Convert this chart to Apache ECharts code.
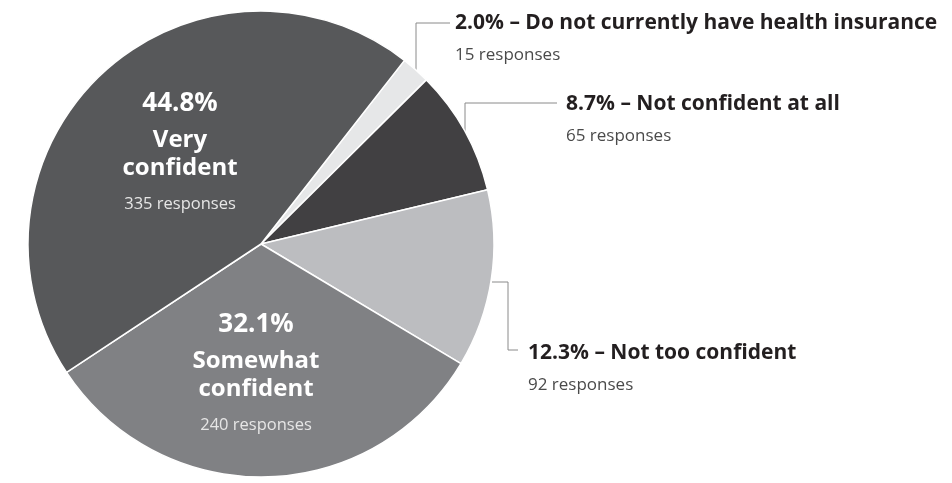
<!DOCTYPE html>
<html>
<head>
<meta charset="utf-8">
<script src="https://cdn.jsdelivr.net/npm/echarts@6/dist/echarts.min.js"></script>
<style>
  html, body { margin: 0; padding: 0; background: #ffffff; }
  #chart { width: 952px; height: 483px; }
</style>
</head>
<body>
<div id="chart"></div>
<script>
// Survey answers, listed clockwise from the top-right slice
const categories = [
  'Do not currently have health insurance',
  'Not confident at all',
  'Not too confident',
  'Somewhat confident',
  'Very confident'
];
const insideNames = ['', '', '', 'Somewhat\nconfident', 'Very\nconfident'];
const responses = [15, 65, 92, 240, 335];
const sliceColors = ['#e6e7e8', '#414042', '#bcbdc0', '#808184', '#57585a'];

const totalResponses = responses.reduce((a, b) => a + b, 0);

// Label placement: outside labels get a left-aligned block with an elbow leader,
// inside labels are centred blocks.
const labelPlacement = [
  { mode: 'out', x: 455, y: 8, line: [[416, 70], [416, 23], [450, 23]] },
  { mode: 'out', x: 566, y: 89, line: [[465, 131], [465, 103], [557, 103]] },
  { mode: 'out', x: 528, y: 338, line: [[492, 282], [508, 282], [508, 350], [518, 350]] },
  { mode: 'in', x: 256, y: 303 },
  { mode: 'in', x: 180, y: 82 }
];

const FONT = '"Open Sans", Lato, sans-serif';

const seriesData = categories.map((name, i) => {
  const out = labelPlacement[i].mode === 'out';
  return {
    name: name,
    value: responses[i],
    itemStyle: { color: sliceColors[i] },
    label: {
      position: out ? 'outside' : 'inside',
      align: out ? 'left' : 'center'
    },
    labelLine: {
      show: out,
      lineStyle: { color: '#8a8a8a', width: 1 }
    }
  };
});

const chart = echarts.init(document.getElementById('chart'), null, { renderer: 'canvas' });

chart.setOption({
  backgroundColor: '#ffffff',
  animation: false,
  series: [{
    type: 'pie',
    center: [261, 244],
    radius: 233,
    startAngle: 52,
    clockwise: true,
    avoidLabelOverlap: false,
    itemStyle: { borderColor: '#ffffff', borderWidth: 1.5 },
    emphasis: { disabled: true },
    data: seriesData,
    label: {
      show: true,
      fontFamily: FONT,
      formatter: function (p) {
        // share of all responses, rounded on its own
        const pct = (p.value / totalResponses * 100).toFixed(1) + '%';
        if (labelPlacement[p.dataIndex].mode === 'out') {
          return '{t|' + pct + ' – ' + p.name + '}\n{s|' + p.value + ' responses}';
        }
        const lines = insideNames[p.dataIndex].split('\n').map(l => '{n|' + l + '}').join('\n');
        return '{p|' + pct + '}\n' + lines + '\n{r|' + p.value + ' responses}';
      },
      rich: {
        t: { fontFamily: FONT, fontSize: 21, fontWeight: 'bold', color: '#231f20', lineHeight: 30 },
        s: { fontFamily: FONT, fontSize: 17, color: '#4a4a4a', lineHeight: 34 },
        p: { fontFamily: FONT, fontSize: 26, fontWeight: 'bold', color: '#ffffff', lineHeight: 44, align: 'center' },
        n: { fontFamily: FONT, fontSize: 24, fontWeight: 'bold', color: '#ffffff', lineHeight: 28, align: 'center' },
        r: { fontFamily: FONT, fontSize: 16.5, color: '#e6e6e6', lineHeight: 44, align: 'center' }
      }
    },
    labelLayout: function (params) {
      const pl = labelPlacement[params.dataIndex];
      const res = {
        x: pl.x,
        y: pl.y,
        align: pl.mode === 'out' ? 'left' : 'center',
        verticalAlign: 'top'
      };
      if (pl.line) res.labelLinePoints = pl.line;
      return res;
    }
  }]
});
</script>
</body>
</html>
